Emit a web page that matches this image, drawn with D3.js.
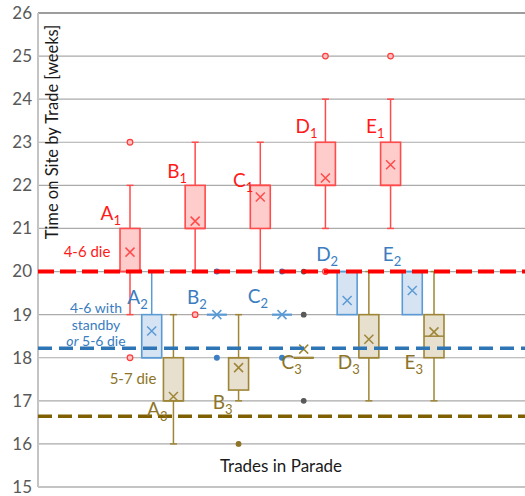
<!DOCTYPE html>
<html>
<head>
<meta charset="utf-8">
<script src="https://cdn.jsdelivr.net/npm/d3@7"></script>
<style>
  html, body { margin: 0; padding: 0; background: #fff; }
  svg { display: block; font-family: Lato, "Open Sans", sans-serif; }
</style>
</head>
<body>
<svg id="chart" width="525" height="496"></svg>
<script>
// Trades (letters) and crew options (subscripts) in parade order
const trades = ["A", "B", "C", "D", "E"];
const options = ["1", "2", "3"];
const seriesKeys = trades.flatMap(t => options.map(o => t + o));

// Box statistics per series, in seriesKeys order (weeks)
const q1Values     = [20, 18, 17,   21, 19, 17.25, 21, 19, 18, 22, 19, 18, 22, 19, 18];
const medianValues = [20, 18, 17,   21, 19, 18,    22, 19, 18, 22, 20, 18, 22, 20, 18.5];
const q3Values     = [21, 19, 18,   22, 19, 18,    22, 19, 18, 23, 20, 19, 23, 20, 19];
const lowValues    = [19, 18, 16,   20, 19, 17,    20, 19, 18, 21, 19, 17, 21, 19, 17];
const highValues   = [22, 20, 19,   23, 19, 19,    23, 19, 18, 24, 20, 20, 24, 20, 20];
const meanValues   = [20.45, 18.62, 17.1, 21.17, 19, 17.77, 21.73, 19, 18.2, 22.17, 19.33, 18.43, 22.48, 19.56, 18.6];
const outlierValues = [[23, 18], [], [], [19], [18, 20], [16], [], [18, 20], [17, 19, 20], [25, 20], [], [], [25], [], []];

// Target durations drawn as dashed reference lines
const targetValues = [20, 18.22, 16.64];
const targetNotes  = [["4-6 die"], ["4-6 with", "standby", "or 5-6 die"], ["5-7 die"]];

const yTicks = d3.range(15, 27);

// Look of each crew option
const palette = {
  "1": { stroke: "#FF4B4B", fill: "#FFCCCC", label: "#FF1A1A", dot: "#FF3B3B", dotFill: "#FFC0C0", r: 2.8 },
  "2": { stroke: "#5B9BD5", fill: "#D6E3F3", label: "#3A7DC0", dot: "#3E7FC4", dotFill: "#3E7FC4", r: 2.4 },
  "3": { stroke: "#9E8636", fill: "#E7E0CF", label: "#8D7428", dot: "#8D7428", dotFill: "#8D7428", r: 2.3 }
};

// Series label placement: [horizontal offset of the label's end from the box centre, baseline in weeks]
const labelSpots = [
  [-9, 21.2], [-4, 19.24], [-6, 16.64],
  [-8, 22.18], [-10, 19.24], [-6, 16.8],
  [-7, 21.97], [-14, 19.28], [-2, 17.73],
  [-8, 23.22], [-9, 20.24], [-9, 17.73],
  [-6, 23.22], [-11, 20.24], [-11, 17.73]
];

const svg = d3.select("#chart");
const plotLeft = 38, plotRight = 525, plotTop = 13, plotBottom = 487;

const y = d3.scaleLinear().domain([15, 26]).range([plotBottom, plotTop]);
const x = d3.scalePoint().domain(seriesKeys).range([130, 434]);
const boxW = x.step() * 0.92;

// Gridlines
svg.append("g").selectAll("line").data(yTicks).join("line")
  .attr("x1", plotLeft).attr("x2", plotRight)
  .attr("y1", d => y(d)).attr("y2", d => y(d))
  .attr("stroke", d => d === 26 ? "#9d9d9d" : "#aaaaaa")
  .attr("stroke-width", d => d === 26 ? 2 : 1.2);

// Plot frame (left and bottom)
svg.append("line").attr("x1", plotLeft).attr("x2", plotLeft).attr("y1", plotTop).attr("y2", plotBottom)
  .attr("stroke", "#c4c4c4").attr("stroke-width", 2);
svg.append("line").attr("x1", plotLeft).attr("x2", plotRight).attr("y1", plotBottom).attr("y2", plotBottom)
  .attr("stroke", "#c4c4c4").attr("stroke-width", 2);

// Y axis tick labels
const yAxis = d3.axisLeft(y).tickValues(yTicks).tickSize(0).tickPadding(6);
const yAxisG = svg.append("g").attr("transform", `translate(${plotLeft},0)`).call(yAxis);
yAxisG.select(".domain").remove();
yAxisG.selectAll("text").attr("font-size", 17).attr("fill", "#595959")
  .attr("font-family", "Lato, sans-serif");

// Axis titles
svg.append("text")
  .attr("transform", `translate(58,132) rotate(-90)`)
  .attr("text-anchor", "middle").attr("font-size", 16.5).attr("fill", "#1a1a1a")
  .text("Time on Site by Trade [weeks]");
svg.append("text").attr("x", 281).attr("y", 472)
  .attr("text-anchor", "middle").attr("font-size", 17).attr("fill", "#1a1a1a")
  .text("Trades in Parade");

// Box plots
const boxes = svg.append("g");
seriesKeys.forEach((key, i) => {
  const c = palette[key.slice(1)];
  const cx = x(key);
  const g = boxes.append("g");
  const cap = 3.5;
  // whiskers
  [[q3Values[i], highValues[i]], [q1Values[i], lowValues[i]]].forEach(([from, to]) => {
    if (from === to) return;
    g.append("line").attr("x1", cx).attr("x2", cx).attr("y1", y(from)).attr("y2", y(to))
      .attr("stroke", c.stroke).attr("stroke-width", 1.5);
    g.append("line").attr("x1", cx - cap).attr("x2", cx + cap).attr("y1", y(to)).attr("y2", y(to))
      .attr("stroke", c.stroke).attr("stroke-width", 1.5);
  });
  // box
  if (q3Values[i] > q1Values[i]) {
    g.append("rect").attr("x", cx - boxW / 2).attr("width", boxW)
      .attr("y", y(q3Values[i])).attr("height", y(q1Values[i]) - y(q3Values[i]))
      .attr("fill", c.fill).attr("stroke", c.stroke).attr("stroke-width", 1.6);
  } else {
    g.append("line").attr("x1", cx - boxW / 2).attr("x2", cx + boxW / 2)
      .attr("y1", y(q1Values[i])).attr("y2", y(q1Values[i]))
      .attr("stroke", key.endsWith("3") ? "#7F6000" : c.stroke).attr("stroke-width", 2);
  }
  // median
  g.append("line").attr("x1", cx - boxW / 2).attr("x2", cx + boxW / 2)
    .attr("y1", y(medianValues[i])).attr("y2", y(medianValues[i]))
    .attr("stroke", c.stroke).attr("stroke-width", 1.5);
  // mean marker
  const m = y(meanValues[i]), s = 4.5;
  g.append("path").attr("d", `M${cx - s},${m - s}L${cx + s},${m + s}M${cx - s},${m + s}L${cx + s},${m - s}`)
    .attr("stroke", c.stroke).attr("stroke-width", 1.5).attr("fill", "none");
  // outliers
  const flat = q3Values[i] === q1Values[i] && key.endsWith("3");
  g.selectAll("circle").data(outlierValues[i]).join("circle")
    .attr("cx", cx).attr("cy", d => y(d)).attr("r", c.r)
    .attr("fill", flat ? "#595959" : c.dotFill)
    .attr("stroke", flat ? "#595959" : c.dot).attr("stroke-width", 1.2);
});

// Dashed target lines
const targetStyle = [
  { color: "#FF0000", width: 4, dash: "16 6" },
  { color: "#2E75B6", width: 3.5, dash: "14 7" },
  { color: "#7F6000", width: 3.5, dash: "14 6" }
];
targetValues.forEach((v, i) => {
  svg.append("line").attr("x1", plotLeft).attr("x2", plotRight).attr("y1", y(v)).attr("y2", y(v))
    .attr("stroke", targetStyle[i].color).attr("stroke-width", targetStyle[i].width)
    .attr("stroke-dasharray", targetStyle[i].dash);
});

// Target notes
const noteSpots = [[87, 257], [96, 313], [133, 384]];
const noteColors = ["#FF1A1A", "#3A7DC0", "#8D7428"];
targetNotes.forEach((lines, i) => {
  lines.forEach((ln, j) => {
    const t = svg.append("text").attr("text-anchor", "middle")
      .attr("font-size", lines.length > 1 ? 14 : 15)
      .attr("fill", noteColors[i])
      .attr("x", noteSpots[i][0]).attr("y", noteSpots[i][1] + j * 16.5);
    if (ln.startsWith("or ")) {
      t.append("tspan").attr("font-style", "italic").text("or");
      t.append("tspan").text(ln.slice(2));
    } else {
      t.text(ln);
    }
  });
});

// Series labels with subscript option numbers
seriesKeys.forEach((key, i) => {
  const c = palette[key.slice(1)];
  const t = svg.append("text").attr("text-anchor", "end")
    .attr("x", x(key) + labelSpots[i][0]).attr("y", y(labelSpots[i][1]))
    .attr("fill", c.label).attr("font-size", 19);
  t.append("tspan").text(key[0]);
  t.append("tspan").attr("font-size", 13).attr("dy", 5).text(key.slice(1));
});
</script>
</body>
</html>
